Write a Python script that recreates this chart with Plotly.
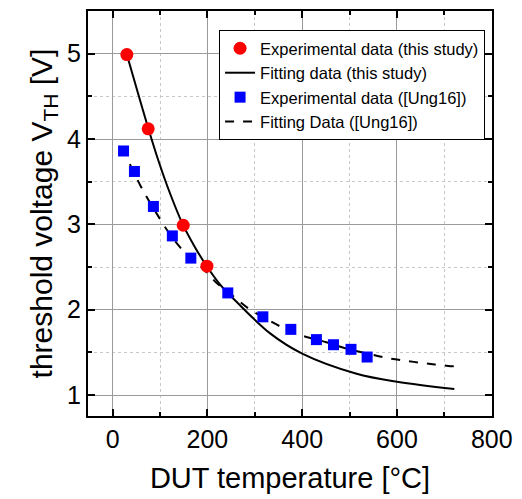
import plotly.graph_objects as go

# Experimental data (this study)
exp_T = [30, 75, 149, 199]
exp_V = [4.99, 4.12, 2.99, 2.51]

# Fitting data (this study)
fit_T = [30, 75, 97, 122, 148, 174, 198, 226, 262, 333, 400, 513, 600, 721]
fit_V = [4.99, 4.13, 3.74, 3.35, 3.0, 2.73, 2.515, 2.30, 2.09, 1.72, 1.486, 1.253, 1.155, 1.07]

# Experimental data ([Ung16])
ung_T = [23, 46, 86, 126, 165, 243, 317, 376, 430, 466, 503, 537]
ung_V = [3.86, 3.62, 3.21, 2.865, 2.605, 2.197, 1.917, 1.77, 1.65, 1.59, 1.536, 1.446]

# Fitting Data ([Ung16])
ungfit_T = [20, 59, 87, 128, 163, 191, 222, 253, 288, 330, 371, 409, 451, 493, 538, 579, 621, 663, 708, 720]
ungfit_V = [3.90, 3.45, 3.18, 2.83, 2.61, 2.48, 2.30, 2.165, 2.01, 1.874, 1.758, 1.68, 1.62, 1.544,
            1.486, 1.435, 1.40, 1.369, 1.342, 1.338]

FONT = "Arial, Liberation Sans, sans-serif"

fig = go.Figure()
fig.add_trace(go.Scatter(x=fit_T, y=fit_V, mode="lines", line=dict(color="black", width=2, shape="spline"),
                         name="Fitting data (this study)", showlegend=False))
fig.add_trace(go.Scatter(x=ungfit_T, y=ungfit_V, mode="lines",
                         line=dict(color="black", width=2, dash="9px,9px", shape="spline"),
                         name="Fitting Data ([Ung16])", showlegend=False))
fig.add_trace(go.Scatter(x=exp_T, y=exp_V, mode="markers",
                         marker=dict(color="#FF0000", size=13, symbol="circle"),
                         name="Experimental data (this study)", legendrank=1))
fig.add_trace(go.Scatter(x=[None], y=[None], mode="lines", line=dict(color="black", width=2),
                         name="Fitting data (this study)", legendrank=2))
fig.add_trace(go.Scatter(x=ung_T, y=ung_V, mode="markers",
                         marker=dict(color="#0000FF", size=11, symbol="square"),
                         name="Experimental data ([Ung16])", legendrank=3))
fig.add_trace(go.Scatter(x=[None], y=[None], mode="lines", line=dict(color="black", width=2, dash="9px,9px"),
                         name="Fitting Data ([Ung16])", legendrank=4))

axis_common = dict(
    showline=True, linecolor="black", linewidth=2, mirror="ticks",
    ticks="inside", ticklen=7, tickwidth=1.5, tickcolor="black",
    showgrid=True, gridcolor="#9a9a9a", gridwidth=1, zeroline=False,
    tickfont=dict(family=FONT, size=25, color="black"),
)

fig.update_xaxes(
    range=[-52, 800.5], tick0=0, dtick=200,
    minor=dict(dtick=100, ticks="inside", ticklen=4, tickcolor="black", showgrid=True,
               gridcolor="#c8c8c8", griddash="dot", gridwidth=1),
    title=dict(text="DUT temperature [°C]", font=dict(family=FONT, size=29, color="black"), standoff=16),
    **axis_common,
)
fig.update_yaxes(
    range=[0.755, 5.5], tick0=1, dtick=1,
    minor=dict(dtick=0.5, ticks="inside", ticklen=4, tickcolor="black", showgrid=True,
               gridcolor="#c8c8c8", griddash="dot", gridwidth=1),
    title=dict(text="threshold voltage V<sub>TH</sub> [V]", font=dict(family=FONT, size=30, color="black"),
               standoff=6),
    **axis_common,
)

fig.update_layout(
    width=522, height=499,
    margin=dict(l=88, r=24, t=9, b=83),
    paper_bgcolor="white", plot_bgcolor="white",
    font=dict(family=FONT, color="black"),
    legend=dict(x=0.3244, y=0.953, xanchor="left", yanchor="top",
                bgcolor="white", bordercolor="black", borderwidth=1,
                font=dict(family=FONT, size=16.5, color="black"),
                tracegroupgap=0, itemwidth=30),
)

fig.write_html("out.html")
